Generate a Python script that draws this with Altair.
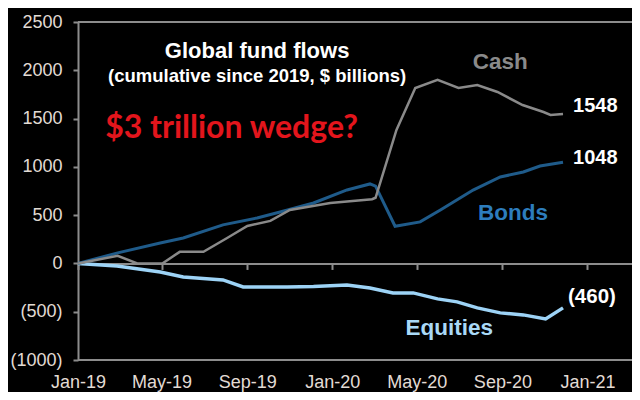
import altair as alt
import pandas as pd

# ---- data ----
cash_dates = ["2019-01-01", "2019-02-27", "2019-03-27", "2019-05-02", "2019-05-27",
              "2019-06-30", "2019-08-03", "2019-09-01", "2019-10-04", "2019-11-01",
              "2019-12-29", "2020-02-27", "2020-03-03", "2020-04-02", "2020-04-29",
              "2020-05-31", "2020-06-30", "2020-07-27", "2020-08-25", "2020-09-30",
              "2020-10-30", "2020-11-09", "2020-11-27"]
cash_values = [0, 78, 0, 0, 120, 120, 263, 388, 440, 553, 626, 665, 680, 1382, 1817,
               1900, 1817, 1848, 1775, 1640, 1568, 1537, 1548]

bond_dates = ["2019-01-01", "2019-02-27", "2019-04-29", "2019-06-01", "2019-07-28",
              "2019-09-15", "2019-10-18", "2019-12-05", "2020-01-22", "2020-02-24",
              "2020-03-03", "2020-03-31", "2020-05-06", "2020-06-04", "2020-07-21",
              "2020-08-29", "2020-10-01", "2020-10-25", "2020-11-27"]
bond_values = [0, 109, 212, 264, 399, 471, 533, 626, 761, 823, 800, 385, 430, 554,
               760, 895, 947, 1009, 1048]

equity_dates = ["2019-01-01", "2019-02-26", "2019-04-29", "2019-06-01", "2019-07-28",
                "2019-08-26", "2019-10-28", "2019-12-05", "2020-01-22", "2020-02-24",
                "2020-03-28", "2020-04-26", "2020-05-31", "2020-06-28", "2020-07-27",
                "2020-08-29", "2020-10-01", "2020-11-02", "2020-11-27"]
equity_values = [0, -26, -88, -140, -171, -243, -243, -240, -223, -254, -305, -305,
                 -367, -398, -460, -512, -533, -575, -460]

y_ticks = [-1000, -500, 0, 500, 1000, 1500, 2000, 2500]
x_ticks = [(2019, 1), (2019, 5), (2019, 9), (2020, 1), (2020, 5), (2020, 9), (2021, 1)]

# ---- styles ----
BG = "black"
AXIS = "#8c8c8c"
LABEL = "#e2dbd4"
FONT = "Liberation Sans"
CASH_C = "#8a8a8a"
BOND_C = "#1f5b8a"
EQ_C = "#9dd3f6"

W, H = 554, 338
Y_MIN, Y_MAX = -1000, 2500
zero_offset = -H * (0 - Y_MIN) / (Y_MAX - Y_MIN)

cash = pd.DataFrame({"date": cash_dates, "value": cash_values})
bonds = pd.DataFrame({"date": bond_dates, "value": bond_values})
equities = pd.DataFrame({"date": equity_dates, "value": equity_values})

x_scale = alt.Scale(type="utc",
                    domain=[alt.DateTime(year=2019, month=1, date=1, utc=True),
                            alt.DateTime(year=2021, month=3, date=6, utc=True)])
y_scale = alt.Scale(domain=[Y_MIN, Y_MAX], nice=False, zero=False)

x_axis = alt.Axis(values=[alt.DateTime(year=y, month=m, date=1, utc=True) for y, m in x_ticks],
                  format="%b-%y", title=None, grid=False, offset=zero_offset,
                  domainColor=AXIS, domainWidth=2, tickColor=AXIS, tickWidth=2, tickSize=6,
                  labelPadding=104, labelFont=FONT, labelFontSize=18, labelColor=LABEL,
                  labelFlush=False, labelOverlap=False)
y_axis = alt.Axis(values=y_ticks, title=None, grid=False,
                  labelExpr="datum.value < 0 ? '(' + format(-datum.value, 'd') + ')' : format(datum.value, 'd') + '\u2002'",
                  domainColor=AXIS, domainWidth=2, tickColor=AXIS, tickWidth=2, tickSize=5,
                  labelPadding=11, labelFont=FONT, labelFontSize=18, labelColor=LABEL,
                  labelOverlap=False)

X = lambda: alt.X("date:T", scale=x_scale, axis=x_axis)
Y = lambda f="value": alt.Y(f"{f}:Q", scale=y_scale, axis=y_axis)


def line(df, color, width):
    return alt.Chart(df).mark_line(color=color, strokeWidth=width).encode(x=X(), y=Y())


frame = alt.Chart(pd.DataFrame({"value": [Y_MIN, Y_MAX]})).mark_rule(
    color=AXIS, strokeWidth=2).encode(y=Y())


def text(anchor, txt, color, size, font=FONT, align="center", weight="bold", dx=0, dy=0):
    d = pd.DataFrame([{"date": anchor[0], "value": anchor[1], "t": txt}])
    return alt.Chart(d).mark_text(color=color, fontSize=size, font=font, align=align,
                                  fontWeight=weight, dx=dx, dy=dy, baseline="middle").encode(
        x=X(), y=Y(), text="t:N")


def fmt(v):
    return f"({-v})" if v < 0 else f"{v}"


layers = [
    frame,
    line(equities, EQ_C, 3.5),
    line(bonds, BOND_C, 3),
    line(cash, CASH_C, 2.5),
    text(("2019-09-15", 2200), "Global fund flows", "white", 22),
    text(("2019-09-15", 1942), "(cumulative since 2019, $ billions)", "white", 18.5),
    text(("2019-02-09", 1403), "$3 trillion wedge?", "#e3151c", 32, font="Lato", align="left"),
    text(("2020-08-29", 2087), "Cash", CASH_C, 22.5),
    text(("2020-07-28", 523), "Bonds", "#2d7dbd", 22.5, align="left"),
    text(("2020-04-15", -668), "Equities", "#a9d9f7", 22.5, align="left"),
    text((cash_dates[-1], cash_values[-1]), fmt(cash_values[-1]), "white", 20, align="left", dx=10, dy=-8),
    text((bond_dates[-1], bond_values[-1]), fmt(bond_values[-1]), "white", 20, align="left", dx=10, dy=-4),
    text((equity_dates[-1], equity_values[-1]), fmt(equity_values[-1]), "white", 20.5, align="left", dx=5, dy=-11),
]

chart = alt.layer(*layers).properties(
    width=W, height=H,
    autosize=alt.AutoSizeParams(type="none"),
    padding={"left": 70, "top": 14, "right": 0, "bottom": 32},
    background=BG,
).configure_view(stroke=None)

chart.save("out.html", embed_options={"renderer": "svg", "actions": False})
